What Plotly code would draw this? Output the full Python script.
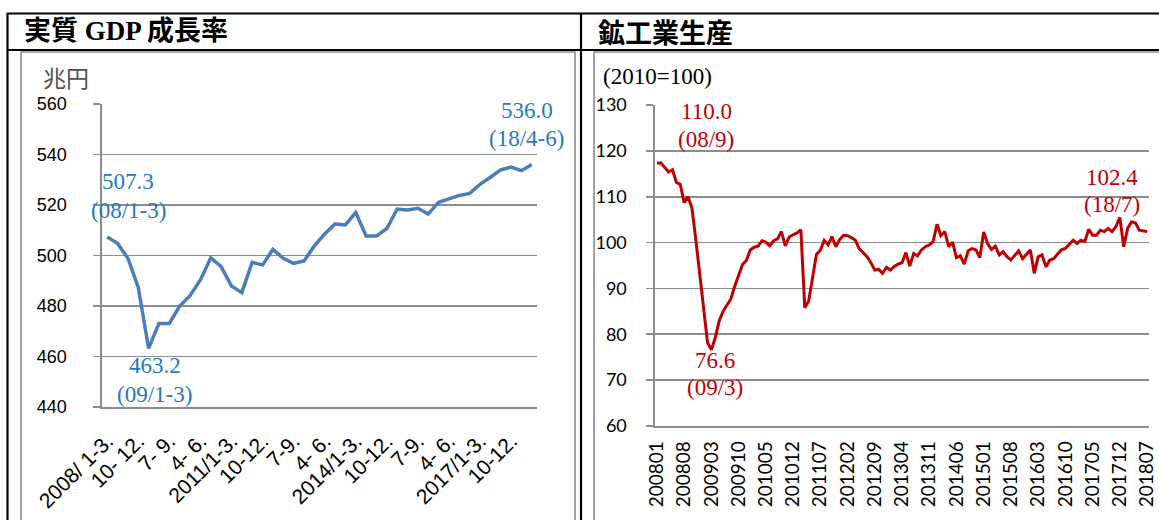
import plotly.graph_objects as go

W, H = 1159, 520

# ---------------- data ----------------
gdp_quarters = [f"{y}/{q}" for y in range(2008, 2019) for q in ("1-3", "4-6", "7-9", "10-12")][:42]
gdp_values = [507.3, 504.8, 498.9, 487.4, 463.2, 473.1, 473.1, 480.0, 484.1, 490.3,
              499.1, 495.6, 487.9, 485.3, 497.3, 496.2, 502.4, 498.9, 496.9, 497.8,
              503.8, 508.5, 512.5, 512.1, 517.0, 507.7, 507.7, 510.7, 518.4, 518.0,
              518.7, 516.4, 521.1, 522.4, 523.8, 524.6, 528.2, 531.0, 533.9, 535.0,
              533.6, 536.0]
gdp_ticklabels = ["2008/ 1-3.", "10- 12.", "7- 9.", "4- 6.", "2011/1-3.", "10-12.", "7-9.",
                  "4- 6.", "2014/1-3.", "10-12.", "7-9.", "4- 6.", "2017/1-3.", "10-12."]
gdp_yticks = [440, 460, 480, 500, 520, 540, 560]

iip_months = [f"{y}{m:02d}" for y in range(2008, 2019) for m in range(1, 13)][:127]
iip_values = [117.3, 117.4, 116.4, 115.4, 115.9, 113.1, 112.7, 108.7, 110.0, 107.5,
              100.6, 93.4, 85.4, 78.2, 76.6,
              79.3, 82.9, 85.0, 86.4, 87.7, 90.5, 93.0, 95.2, 96.1, 98.4,
              99.0, 99.2, 100.4, 100.1, 99.3, 100.4, 100.8, 102.4, 99.3, 101.2,
              101.7, 102.1, 102.8, 85.8, 87.2, 92.6, 97.4, 98.3, 100.5, 99.5,
              101.3, 99.1, 100.7, 101.6, 101.5, 101.1, 100.5, 98.7, 97.8, 96.9,
              95.6, 94.0, 94.2, 93.3, 94.6, 94.0, 94.8, 95.3, 95.6, 97.8,
              94.9, 97.6, 97.1, 98.4, 99.1, 99.5, 100.2, 104.0, 101.5, 102.4,
              99.1, 100.1, 96.7, 97.1, 95.3, 98.2, 98.7, 98.4, 96.7, 102.3,
              99.8, 98.5, 99.2, 97.3, 98.0, 96.9, 96.2, 97.3, 98.2, 96.5,
              97.5, 98.4, 93.3, 96.9, 97.3, 94.7, 96.2, 96.5, 97.5, 98.4,
              98.7, 99.5, 100.5, 99.8, 100.5, 100.2, 102.9, 101.6, 101.6, 102.7,
              102.4, 103.1, 102.4, 103.5, 105.5, 99.1, 103.1, 104.5, 104.3, 102.7,
              102.6, 102.4]
iip_ticklabels = ["200801", "200808", "200903", "200910", "201005", "201012", "201107",
                  "201202", "201209", "201304", "201311", "201406", "201501", "201508",
                  "201603", "201610", "201705", "201712", "201807"]
iip_yticks = [60, 70, 80, 90, 100, 110, 120, 130]

gdp_labels = [(0, "507.3", "(08/1-3)"), (4, "463.2", "(09/1-3)"), (41, "536.0", "(18/4-6)")]
iip_labels = [(8, "110.0", "(08/9)"), (14, "76.6", "(09/3)"), (126, "102.4", "(18/7)")]

# ---------------- styles ----------------
GDP_LINE = "#4A7EBB"
GDP_TEXT = "#1F78C8"
IIP_LINE = "#C00000"
IIP_TEXT = "#C00000"
GRID = "#8C8C8C"
SERIF = "Liberation Serif, Times New Roman, serif"
CJK = "Noto Sans CJK JP"


def px(x):
    return x / W


def py(y):
    return 1 - y / H


fig = go.Figure()
fig.add_trace(go.Scatter(x=list(range(len(gdp_values))), y=gdp_values, mode="lines",
                         line=dict(color=GDP_LINE, width=3.5), xaxis="x", yaxis="y",
                         customdata=gdp_quarters, hoverinfo="skip"))
fig.add_trace(go.Scatter(x=list(range(len(iip_values))), y=iip_values, mode="lines",
                         line=dict(color=IIP_LINE, width=3), xaxis="x2", yaxis="y2",
                         customdata=iip_months, hoverinfo="skip"))

common_y = dict(showgrid=True, gridcolor=GRID, gridwidth=1.6, showline=True, linecolor=GRID,
                linewidth=1.6, ticks="outside", ticklen=7, tickwidth=1.6, tickcolor=GRID,
                zeroline=False, fixedrange=True, automargin=False)
common_x = dict(showgrid=False, showline=True, linecolor=GRID, linewidth=1.6, ticks="",
                zeroline=False, fixedrange=True, automargin=False, ticklabeloverflow="allow")

fig.update_layout(
    width=W, height=H, autosize=False,
    margin=dict(l=0, r=0, t=0, b=0, pad=0, autoexpand=False),
    paper_bgcolor="white", plot_bgcolor="white",
    showlegend=False,
    xaxis=dict(domain=[px(102), px(537)], range=[-0.5, len(gdp_values) - 0.5],
               tickmode="array", tickvals=list(range(0, 42, 3)), ticktext=gdp_ticklabels,
               tickangle=-45, ticklabelstandoff=12,
               tickfont=dict(family="Liberation Sans, Arial", size=21, color="black"),
               anchor="y", **common_x),
    yaxis=dict(domain=[py(407), py(104)], range=[440, 560], tickmode="array",
               tickvals=gdp_yticks, ticklabelstandoff=23,
               tickfont=dict(family="Liberation Sans, Arial", size=18, color="black"),
               anchor="x", **common_y),
    xaxis2=dict(domain=[px(655), px(1149)], range=[-0.5, len(iip_values) - 0.5],
                tickmode="array", tickvals=list(range(0, 127, 7)), ticktext=iip_ticklabels,
                tickangle=-90, ticklabelstandoff=6,
                tickfont=dict(family="Lato", size=19, color="black"),
                anchor="y2", **common_x),
    yaxis2=dict(domain=[py(426), py(105)], range=[60, 130], tickmode="array",
                tickvals=iip_yticks, ticklabelstandoff=16,
                tickfont=dict(family="Lato", size=18, color="black"),
                anchor="x2", **common_y),
)

ann = []
# titles
ann.append(dict(x=px(22), y=py(31), xref="paper", yref="paper", xanchor="left", yanchor="middle",
                text="<b>実質 GDP 成長率</b>", showarrow=False,
                font=dict(family=f"{SERIF}, {CJK}", size=27, color="black")))
ann.append(dict(x=px(596), y=py(31), xref="paper", yref="paper", xanchor="left", yanchor="middle",
                text="<b>鉱工業生産</b>", showarrow=False,
                font=dict(family=CJK, size=27, color="black")))
# units
ann.append(dict(x=px(41), y=py(77), xref="paper", yref="paper", xanchor="left", yanchor="middle",
                text="兆円", showarrow=False,
                font=dict(family=CJK, size=23, color="#505050")))
ann.append(dict(x=px(601), y=py(76), xref="paper", yref="paper", xanchor="left", yanchor="middle",
                text="(2010=100)", showarrow=False,
                font=dict(family=SERIF, size=23, color="black")))

# data labels (offsets in pixels from the data point)
gdp_off = {0: (21, 56, 27), 4: (6, -17, -46), 41: (-5, 54, 26)}
for idx, v, d in gdp_labels:
    dx, dy1, dy2 = gdp_off[idx]
    for txt, dy in ((v, dy1), (d, dy2)):
        ann.append(dict(x=idx, y=gdp_values[idx], xref="x", yref="y", text=txt, showarrow=False,
                        xshift=dx, yshift=dy, xanchor="center", yanchor="middle",
                        font=dict(family=SERIF, size=23, color=GDP_TEXT)))
iip_off = {8: (18, 85, 57), 14: (4, -11, -38), 126: (-35, 54, 27)}
for idx, v, d in iip_labels:
    dx, dy1, dy2 = iip_off[idx]
    for txt, dy in ((v, dy1), (d, dy2)):
        ann.append(dict(x=idx, y=iip_values[idx], xref="x2", yref="y2", text=txt, showarrow=False,
                        xshift=dx, yshift=dy, xanchor="center", yanchor="middle",
                        font=dict(family=SERIF, size=23, color=IIP_TEXT)))
fig.update_layout(annotations=ann)

shapes = []
# outer table frame (black)
for (x0, y0, x1, y1) in [(7, 13.5, 1159, 13.5), (7, 50, 1159, 50), (7.5, 13, 7.5, 520), (581, 13, 581, 520)]:
    shapes.append(dict(type="line", xref="paper", yref="paper", x0=px(x0), y0=py(y0),
                       x1=px(x1), y1=py(y1), line=dict(color="black", width=2.2)))
# chart area borders (gray)
for (x0, y0, x1, y1) in [(21, 52, 575, 530), (594, 52, 1175, 530)]:
    shapes.append(dict(type="rect", xref="paper", yref="paper", x0=px(x0), y0=py(y0),
                       x1=px(x1), y1=py(y1), line=dict(color="#8C8C8C", width=1.6)))
fig.update_layout(shapes=shapes)

fig.write_html("out.html", config={"displayModeBar": False, "staticPlot": True},
               post_script="document.body.style.margin='0px';document.body.style.overflow='hidden';")
